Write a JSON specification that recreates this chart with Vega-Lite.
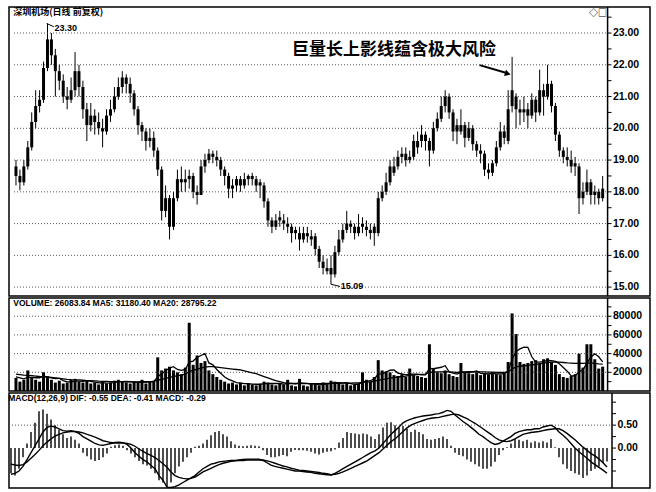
{
"$schema": "https://vega.github.io/schema/vega-lite/v6.json",
"background": "white",
"padding": {"left": 7, "top": 5, "right": 0, "bottom": 0},
"spacing": 2,
"bounds": "flush",
"config": {"view": {"stroke": "black", "strokeWidth": 1.5}, "text": {"font": "Liberation Sans"}},
"datasets": {"one": [{}],
"pl": [{"g":15,"t":"15.00"},{"g":16,"t":"16.00"},{"g":17,"t":"17.00"},{"g":18,"t":"18.00"},{"g":19,"t":"19.00"},{"g":20,"t":"20.00"},{"g":21,"t":"21.00"},{"g":22,"t":"22.00"},{"g":23,"t":"23.00"}],
"pt": [{"g":15},{"g":15.5},{"g":16},{"g":16.5},{"g":17},{"g":17.5},{"g":18},{"g":18.5},{"g":19},{"g":19.5},{"g":20},{"g":20.5},{"g":21},{"g":21.5},{"g":22},{"g":22.5},{"g":23},{"g":23.5}],
"vl": [{"g":20000,"t":"20000"},{"g":40000,"t":"40000"},{"g":60000,"t":"60000"},{"g":80000,"t":"80000"}],
"vt": [{"g":10000},{"g":20000},{"g":30000},{"g":40000},{"g":50000},{"g":60000},{"g":70000},{"g":80000},{"g":90000}],
"ml": [{"g":0,"t":"0.00"},{"g":0.5,"t":"0.50"}],
"mt": [{"g":-0.5},{"g":-0.25},{"g":0},{"g":0.25},{"g":0.5},{"g":0.75},{"g":1.0}],
"k": [
{"d":1,"o":18.8,"h":19.0,"l":18.2,"c":18.5,"v":14000,"m5":15000,"m20":18000,"dif":-0.57,"dea":-0.35,"mh":-0.55},
{"d":2,"o":18.5,"h":18.7,"l":18.05,"c":18.3,"v":10000,"m5":14000,"m20":17500,"dif":-0.55,"dea":-0.37,"mh":-0.6},
{"d":3,"o":18.3,"h":19.0,"l":18.2,"c":18.8,"v":12000,"m5":13000,"m20":17000,"dif":-0.5,"dea":-0.38,"mh":-0.45},
{"d":4,"o":18.8,"h":19.6,"l":18.7,"c":19.4,"v":22000,"m5":14500,"m20":16800,"dif":-0.4,"dea":-0.36,"mh":-0.2},
{"d":5,"o":19.4,"h":20.5,"l":19.3,"c":20.2,"v":15000,"m5":14600,"m20":16500,"dif":-0.25,"dea":-0.3,"mh":0.1},
{"d":6,"o":20.2,"h":21.2,"l":20.0,"c":20.7,"v":12000,"m5":14200,"m20":16000,"dif":-0.1,"dea":-0.22,"mh":0.35},
{"d":7,"o":20.7,"h":21.2,"l":20.5,"c":20.9,"v":10000,"m5":14200,"m20":15500,"dif":0.05,"dea":-0.14,"mh":0.55},
{"d":8,"o":20.9,"h":22.1,"l":20.8,"c":21.9,"v":20000,"m5":15800,"m20":15200,"dif":0.2,"dea":-0.05,"mh":0.8},
{"d":9,"o":21.9,"h":23.3,"l":21.8,"c":22.8,"v":16000,"m5":14600,"m20":15000,"dif":0.35,"dea":0.05,"mh":0.84},
{"d":10,"o":22.8,"h":23.0,"l":22.0,"c":22.3,"v":12000,"m5":14000,"m20":14500,"dif":0.45,"dea":0.13,"mh":0.75},
{"d":11,"o":22.3,"h":22.5,"l":21.0,"c":21.8,"v":9000,"m5":13400,"m20":14000,"dif":0.48,"dea":0.2,"mh":0.62},
{"d":12,"o":21.8,"h":22.0,"l":21.2,"c":21.5,"v":11000,"m5":13600,"m20":13500,"dif":0.46,"dea":0.26,"mh":0.5},
{"d":13,"o":21.5,"h":21.7,"l":20.8,"c":21.0,"v":8000,"m5":11200,"m20":13000,"dif":0.42,"dea":0.3,"mh":0.4},
{"d":14,"o":21.0,"h":21.3,"l":20.6,"c":20.9,"v":9000,"m5":9800,"m20":12500,"dif":0.38,"dea":0.33,"mh":0.3},
{"d":15,"o":20.9,"h":21.6,"l":20.8,"c":21.2,"v":12000,"m5":9800,"m20":12200,"dif":0.37,"dea":0.35,"mh":0.22},
{"d":16,"o":21.2,"h":22.4,"l":21.0,"c":21.8,"v":13000,"m5":10600,"m20":12000,"dif":0.38,"dea":0.36,"mh":0.25},
{"d":17,"o":21.8,"h":22.0,"l":21.0,"c":21.3,"v":10000,"m5":10600,"m20":11800,"dif":0.36,"dea":0.36,"mh":0.18},
{"d":18,"o":21.3,"h":21.5,"l":20.3,"c":20.6,"v":9000,"m5":10200,"m20":11500,"dif":0.32,"dea":0.35,"mh":0.1},
{"d":19,"o":20.6,"h":20.8,"l":19.6,"c":20.1,"v":11000,"m5":11000,"m20":11200,"dif":0.25,"dea":0.33,"mh":-0.1},
{"d":20,"o":20.1,"h":20.8,"l":19.9,"c":20.4,"v":8000,"m5":10200,"m20":11000,"dif":0.2,"dea":0.3,"mh":-0.18},
{"d":21,"o":20.4,"h":20.6,"l":19.8,"c":20.2,"v":9000,"m5":9400,"m20":10800,"dif":0.15,"dea":0.27,"mh":-0.25},
{"d":22,"o":20.2,"h":20.5,"l":19.8,"c":20.0,"v":7000,"m5":8800,"m20":10500,"dif":0.1,"dea":0.24,"mh":-0.28},
{"d":23,"o":20.0,"h":20.3,"l":19.4,"c":19.9,"v":10000,"m5":9000,"m20":10300,"dif":0.07,"dea":0.2,"mh":-0.26},
{"d":24,"o":19.9,"h":20.6,"l":19.8,"c":20.4,"v":8000,"m5":8400,"m20":10200,"dif":0.06,"dea":0.16,"mh":-0.2},
{"d":25,"o":20.4,"h":20.9,"l":20.2,"c":20.6,"v":9000,"m5":8600,"m20":10000,"dif":0.08,"dea":0.14,"mh":-0.12},
{"d":26,"o":20.6,"h":21.3,"l":20.5,"c":21.0,"v":11000,"m5":9000,"m20":10000,"dif":0.1,"dea":0.12,"mh":0.03},
{"d":27,"o":21.0,"h":21.6,"l":20.9,"c":21.3,"v":12000,"m5":10000,"m20":10000,"dif":0.12,"dea":0.11,"mh":0.06},
{"d":28,"o":21.3,"h":21.8,"l":21.1,"c":21.6,"v":10000,"m5":10000,"m20":10000,"dif":0.13,"dea":0.11,"mh":0.08},
{"d":29,"o":21.6,"h":21.7,"l":21.1,"c":21.4,"v":9000,"m5":10200,"m20":9900,"dif":0.12,"dea":0.11,"mh":0.05},
{"d":30,"o":21.4,"h":21.6,"l":20.8,"c":21.1,"v":8000,"m5":10000,"m20":9800,"dif":0.08,"dea":0.1,"mh":-0.05},
{"d":31,"o":21.1,"h":21.2,"l":20.4,"c":20.6,"v":10000,"m5":9600,"m20":9800,"dif":0.0,"dea":0.08,"mh":-0.12},
{"d":32,"o":20.6,"h":20.7,"l":19.8,"c":20.1,"v":9000,"m5":9200,"m20":9800,"dif":-0.1,"dea":0.04,"mh":-0.2},
{"d":33,"o":20.1,"h":20.2,"l":19.6,"c":19.9,"v":12000,"m5":9600,"m20":9900,"dif":-0.18,"dea":-0.02,"mh":-0.28},
{"d":34,"o":19.9,"h":20.0,"l":19.3,"c":19.6,"v":8000,"m5":9400,"m20":9900,"dif":-0.25,"dea":-0.07,"mh":-0.35},
{"d":35,"o":19.6,"h":20.0,"l":19.4,"c":19.7,"v":10000,"m5":9800,"m20":10000,"dif":-0.3,"dea":-0.12,"mh":-0.38},
{"d":36,"o":19.7,"h":19.9,"l":19.1,"c":19.3,"v":11000,"m5":10000,"m20":10200,"dif":-0.38,"dea":-0.16,"mh":-0.45},
{"d":37,"o":19.3,"h":19.4,"l":18.5,"c":18.7,"v":36000,"m5":15400,"m20":11500,"dif":-0.45,"dea":-0.21,"mh":-0.55},
{"d":38,"o":18.7,"h":18.8,"l":17.1,"c":17.4,"v":22000,"m5":18400,"m20":12500,"dif":-0.6,"dea":-0.27,"mh":-0.7},
{"d":39,"o":17.4,"h":18.2,"l":17.2,"c":17.8,"v":24000,"m5":21600,"m20":13500,"dif":-0.7,"dea":-0.34,"mh":-0.75},
{"d":40,"o":17.8,"h":17.9,"l":16.5,"c":16.9,"v":26000,"m5":24600,"m20":14500,"dif":-0.85,"dea":-0.42,"mh":-0.85},
{"d":41,"o":16.9,"h":18.0,"l":16.8,"c":17.8,"v":22000,"m5":26000,"m20":15500,"dif":-0.86,"dea":-0.52,"mh":-0.75},
{"d":42,"o":17.8,"h":18.7,"l":17.7,"c":18.4,"v":20000,"m5":23000,"m20":16500,"dif":-0.84,"dea":-0.6,"mh":-0.55},
{"d":43,"o":18.4,"h":18.8,"l":18.0,"c":18.3,"v":18000,"m5":22000,"m20":17000,"dif":-0.8,"dea":-0.64,"mh":-0.4},
{"d":44,"o":18.3,"h":18.7,"l":18.0,"c":18.4,"v":25000,"m5":23000,"m20":18000,"dif":-0.75,"dea":-0.66,"mh":-0.3},
{"d":45,"o":18.4,"h":18.7,"l":18.1,"c":18.5,"v":73000,"m5":31000,"m20":21000,"dif":-0.7,"dea":-0.67,"mh":-0.2},
{"d":46,"o":18.5,"h":18.6,"l":17.8,"c":18.0,"v":28000,"m5":32000,"m20":22000,"dif":-0.65,"dea":-0.66,"mh":-0.1},
{"d":47,"o":18.0,"h":18.2,"l":17.6,"c":17.9,"v":38000,"m5":36000,"m20":23500,"dif":-0.6,"dea":-0.63,"mh":0.03},
{"d":48,"o":17.9,"h":19.0,"l":17.9,"c":18.8,"v":30000,"m5":38000,"m20":24500,"dif":-0.52,"dea":-0.58,"mh":0.05},
{"d":49,"o":18.8,"h":19.2,"l":18.6,"c":19.0,"v":32000,"m5":40000,"m20":25500,"dif":-0.45,"dea":-0.52,"mh":0.1},
{"d":50,"o":19.0,"h":19.35,"l":18.9,"c":19.2,"v":22000,"m5":30000,"m20":26000,"dif":-0.4,"dea":-0.48,"mh":0.18},
{"d":51,"o":19.2,"h":19.3,"l":18.9,"c":19.1,"v":18000,"m5":28000,"m20":26000,"dif":-0.35,"dea":-0.44,"mh":0.28},
{"d":52,"o":19.1,"h":19.3,"l":18.8,"c":19.0,"v":15000,"m5":23000,"m20":25500,"dif":-0.33,"dea":-0.4,"mh":0.35},
{"d":53,"o":19.0,"h":19.1,"l":18.5,"c":18.7,"v":12000,"m5":19000,"m20":25000,"dif":-0.3,"dea":-0.36,"mh":0.37},
{"d":54,"o":18.7,"h":18.8,"l":18.2,"c":18.5,"v":10000,"m5":15000,"m20":24500,"dif":-0.29,"dea":-0.33,"mh":0.3},
{"d":55,"o":18.5,"h":18.6,"l":17.8,"c":18.1,"v":8000,"m5":12500,"m20":24000,"dif":-0.28,"dea":-0.31,"mh":0.25},
{"d":56,"o":18.1,"h":18.4,"l":17.8,"c":18.2,"v":9000,"m5":10800,"m20":23500,"dif":-0.27,"dea":-0.29,"mh":0.15},
{"d":57,"o":18.2,"h":18.5,"l":18.0,"c":18.4,"v":7000,"m5":9000,"m20":23000,"dif":-0.27,"dea":-0.28,"mh":0.08},
{"d":58,"o":18.4,"h":18.5,"l":18.0,"c":18.2,"v":9000,"m5":8400,"m20":22500,"dif":-0.26,"dea":-0.27,"mh":0.05},
{"d":59,"o":18.2,"h":18.6,"l":18.1,"c":18.4,"v":6000,"m5":7800,"m20":21500,"dif":-0.25,"dea":-0.27,"mh":0.04},
{"d":60,"o":18.4,"h":18.55,"l":18.2,"c":18.5,"v":8000,"m5":7800,"m20":20500,"dif":-0.24,"dea":-0.26,"mh":0.05},
{"d":61,"o":18.5,"h":18.6,"l":18.2,"c":18.4,"v":7000,"m5":7400,"m20":19500,"dif":-0.24,"dea":-0.26,"mh":0.06},
{"d":62,"o":18.4,"h":18.5,"l":18.0,"c":18.2,"v":6000,"m5":7200,"m20":18500,"dif":-0.24,"dea":-0.26,"mh":0.05},
{"d":63,"o":18.3,"h":18.4,"l":17.8,"c":18.2,"v":8000,"m5":7000,"m20":17000,"dif":-0.24,"dea":-0.26,"mh":0.04},
{"d":64,"o":18.2,"h":18.3,"l":17.5,"c":17.7,"v":10000,"m5":7800,"m20":15500,"dif":-0.27,"dea":-0.26,"mh":-0.05},
{"d":65,"o":17.7,"h":17.8,"l":16.9,"c":17.1,"v":9000,"m5":8000,"m20":14000,"dif":-0.32,"dea":-0.28,"mh":-0.15},
{"d":66,"o":17.1,"h":17.2,"l":16.7,"c":16.9,"v":7000,"m5":8000,"m20":12500,"dif":-0.37,"dea":-0.3,"mh":-0.2},
{"d":67,"o":16.9,"h":17.3,"l":16.8,"c":17.1,"v":6000,"m5":8000,"m20":11000,"dif":-0.4,"dea":-0.33,"mh":-0.2},
{"d":68,"o":17.2,"h":17.4,"l":16.9,"c":17.1,"v":8000,"m5":8000,"m20":10000,"dif":-0.42,"dea":-0.36,"mh":-0.18},
{"d":69,"o":17.1,"h":17.3,"l":16.8,"c":17.0,"v":7000,"m5":7400,"m20":9000,"dif":-0.44,"dea":-0.39,"mh":-0.15},
{"d":70,"o":17.0,"h":17.2,"l":16.7,"c":16.9,"v":12000,"m5":8000,"m20":8500,"dif":-0.46,"dea":-0.41,"mh":-0.18},
{"d":71,"o":16.9,"h":17.0,"l":16.4,"c":16.7,"v":6000,"m5":8000,"m20":8200,"dif":-0.48,"dea":-0.44,"mh":-0.08},
{"d":72,"o":16.8,"h":16.9,"l":16.5,"c":16.7,"v":5000,"m5":7600,"m20":8000,"dif":-0.5,"dea":-0.46,"mh":-0.04},
{"d":73,"o":16.7,"h":16.9,"l":16.15,"c":16.5,"v":13000,"m5":8600,"m20":8000,"dif":-0.5,"dea":-0.48,"mh":-0.05},
{"d":74,"o":16.5,"h":16.9,"l":16.4,"c":16.7,"v":6000,"m5":8400,"m20":7800,"dif":-0.51,"dea":-0.49,"mh":-0.05},
{"d":75,"o":16.7,"h":16.9,"l":16.4,"c":16.6,"v":5000,"m5":8200,"m20":7800,"dif":-0.52,"dea":-0.5,"mh":-0.06},
{"d":76,"o":16.5,"h":16.8,"l":16.3,"c":16.6,"v":7000,"m5":7200,"m20":7800,"dif":-0.53,"dea":-0.51,"mh":-0.08},
{"d":77,"o":16.6,"h":16.7,"l":16.0,"c":16.2,"v":8000,"m5":7800,"m20":7800,"dif":-0.55,"dea":-0.52,"mh":-0.12},
{"d":78,"o":16.2,"h":16.3,"l":15.6,"c":15.8,"v":6000,"m5":6600,"m20":7900,"dif":-0.56,"dea":-0.53,"mh":-0.14},
{"d":79,"o":15.8,"h":16.0,"l":15.4,"c":15.6,"v":9000,"m5":7000,"m20":8000,"dif":-0.57,"dea":-0.55,"mh":-0.1},
{"d":80,"o":15.5,"h":15.9,"l":15.4,"c":15.6,"v":7000,"m5":7400,"m20":8000,"dif":-0.58,"dea":-0.56,"mh":-0.08},
{"d":81,"o":15.6,"h":16.0,"l":15.09,"c":15.4,"v":11000,"m5":8200,"m20":8200,"dif":-0.59,"dea":-0.58,"mh":-0.07},
{"d":82,"o":15.4,"h":16.3,"l":15.3,"c":16.1,"v":10000,"m5":8600,"m20":8300,"dif":-0.55,"dea":-0.57,"mh":-0.03},
{"d":83,"o":16.1,"h":16.8,"l":16.0,"c":16.5,"v":8000,"m5":9000,"m20":8300,"dif":-0.5,"dea":-0.55,"mh":0.12},
{"d":84,"o":16.5,"h":17.0,"l":16.4,"c":16.8,"v":7000,"m5":8600,"m20":8400,"dif":-0.45,"dea":-0.52,"mh":0.22},
{"d":85,"o":16.8,"h":17.4,"l":16.7,"c":17.0,"v":8000,"m5":8800,"m20":8500,"dif":-0.4,"dea":-0.48,"mh":0.35},
{"d":86,"o":17.0,"h":17.1,"l":16.7,"c":16.9,"v":6000,"m5":8000,"m20":8500,"dif":-0.35,"dea":-0.44,"mh":0.33},
{"d":87,"o":16.9,"h":17.0,"l":16.5,"c":16.7,"v":7000,"m5":7200,"m20":8600,"dif":-0.3,"dea":-0.4,"mh":0.32},
{"d":88,"o":16.7,"h":17.3,"l":16.6,"c":16.9,"v":8000,"m5":7200,"m20":8700,"dif":-0.25,"dea":-0.36,"mh":0.3},
{"d":89,"o":17.0,"h":17.2,"l":16.7,"c":16.9,"v":20000,"m5":9800,"m20":9300,"dif":-0.2,"dea":-0.32,"mh":0.32},
{"d":90,"o":16.9,"h":17.1,"l":16.6,"c":16.8,"v":12000,"m5":10200,"m20":9500,"dif":-0.15,"dea":-0.28,"mh":0.3},
{"d":91,"o":16.8,"h":17.0,"l":16.5,"c":16.7,"v":10000,"m5":11000,"m20":9800,"dif":-0.1,"dea":-0.22,"mh":0.25},
{"d":92,"o":16.9,"h":17.0,"l":16.3,"c":16.7,"v":15000,"m5":13000,"m20":10200,"dif":-0.06,"dea":-0.16,"mh":0.2},
{"d":93,"o":16.7,"h":18.0,"l":16.6,"c":17.8,"v":33000,"m5":18000,"m20":11500,"dif":0.0,"dea":-0.1,"mh":0.3},
{"d":94,"o":17.8,"h":18.2,"l":17.7,"c":18.0,"v":22000,"m5":18400,"m20":12200,"dif":0.1,"dea":-0.02,"mh":0.45},
{"d":95,"o":18.0,"h":18.6,"l":17.9,"c":18.3,"v":21000,"m5":20200,"m20":13000,"dif":0.2,"dea":0.06,"mh":0.55},
{"d":96,"o":18.3,"h":19.0,"l":18.2,"c":18.8,"v":20000,"m5":22200,"m20":13800,"dif":0.3,"dea":0.14,"mh":0.56},
{"d":97,"o":18.6,"h":19.1,"l":18.5,"c":18.8,"v":17000,"m5":22600,"m20":14400,"dif":0.38,"dea":0.2,"mh":0.5},
{"d":98,"o":18.8,"h":19.3,"l":18.7,"c":19.1,"v":16000,"m5":19200,"m20":15000,"dif":0.46,"dea":0.28,"mh":0.45},
{"d":99,"o":19.1,"h":19.4,"l":18.9,"c":19.2,"v":18000,"m5":18400,"m20":15500,"dif":0.55,"dea":0.36,"mh":0.48},
{"d":100,"o":19.2,"h":19.4,"l":18.8,"c":19.0,"v":15000,"m5":17200,"m20":16000,"dif":0.6,"dea":0.44,"mh":0.42},
{"d":101,"o":19.0,"h":19.3,"l":18.9,"c":19.1,"v":24000,"m5":18000,"m20":16800,"dif":0.63,"dea":0.5,"mh":0.35},
{"d":102,"o":19.1,"h":19.8,"l":19.0,"c":19.6,"v":17000,"m5":18000,"m20":17200,"dif":0.66,"dea":0.54,"mh":0.4},
{"d":103,"o":19.4,"h":19.9,"l":19.2,"c":19.6,"v":16000,"m5":18000,"m20":17500,"dif":0.68,"dea":0.57,"mh":0.35},
{"d":104,"o":19.6,"h":20.1,"l":19.4,"c":19.8,"v":15000,"m5":17200,"m20":17800,"dif":0.7,"dea":0.6,"mh":0.3},
{"d":105,"o":19.8,"h":19.9,"l":19.3,"c":19.6,"v":14000,"m5":17200,"m20":18000,"dif":0.71,"dea":0.63,"mh":0.2},
{"d":106,"o":19.6,"h":19.7,"l":18.8,"c":19.3,"v":50000,"m5":24200,"m20":19800,"dif":0.72,"dea":0.65,"mh":0.18},
{"d":107,"o":19.3,"h":20.2,"l":19.2,"c":20.0,"v":24000,"m5":23800,"m20":20200,"dif":0.74,"dea":0.66,"mh":0.2},
{"d":108,"o":20.0,"h":20.5,"l":19.9,"c":20.3,"v":20000,"m5":24600,"m20":20500,"dif":0.75,"dea":0.67,"mh":0.22},
{"d":109,"o":20.3,"h":21.0,"l":20.2,"c":20.7,"v":19000,"m5":25400,"m20":20500,"dif":0.78,"dea":0.69,"mh":0.25},
{"d":110,"o":20.7,"h":21.2,"l":20.5,"c":21.0,"v":22000,"m5":27000,"m20":20600,"dif":0.82,"dea":0.71,"mh":0.2},
{"d":111,"o":21.0,"h":21.1,"l":20.3,"c":20.5,"v":18000,"m5":20600,"m20":20400,"dif":0.8,"dea":0.73,"mh":0.05},
{"d":112,"o":20.5,"h":20.6,"l":19.6,"c":19.9,"v":16000,"m5":19000,"m20":20200,"dif":0.72,"dea":0.74,"mh":-0.1},
{"d":113,"o":20.1,"h":20.3,"l":19.5,"c":19.9,"v":15000,"m5":18000,"m20":20000,"dif":0.65,"dea":0.72,"mh":-0.15},
{"d":114,"o":19.9,"h":20.6,"l":19.8,"c":20.1,"v":30000,"m5":20200,"m20":20500,"dif":0.58,"dea":0.68,"mh":-0.18},
{"d":115,"o":20.1,"h":20.2,"l":19.4,"c":19.7,"v":20000,"m5":19800,"m20":20500,"dif":0.52,"dea":0.64,"mh":-0.25},
{"d":116,"o":19.7,"h":20.2,"l":19.6,"c":20.0,"v":19000,"m5":20000,"m20":20600,"dif":0.45,"dea":0.59,"mh":-0.3},
{"d":117,"o":20.0,"h":20.1,"l":19.3,"c":19.5,"v":18000,"m5":20400,"m20":20600,"dif":0.38,"dea":0.54,"mh":-0.35},
{"d":118,"o":19.5,"h":19.6,"l":19.1,"c":19.3,"v":20000,"m5":21400,"m20":20700,"dif":0.3,"dea":0.48,"mh":-0.4},
{"d":119,"o":19.3,"h":19.5,"l":18.9,"c":19.2,"v":17000,"m5":18800,"m20":20500,"dif":0.25,"dea":0.42,"mh":-0.45},
{"d":120,"o":19.2,"h":19.3,"l":18.5,"c":18.7,"v":19000,"m5":18600,"m20":20500,"dif":0.18,"dea":0.36,"mh":-0.45},
{"d":121,"o":18.7,"h":18.9,"l":18.4,"c":18.6,"v":18000,"m5":18200,"m20":20300,"dif":0.12,"dea":0.3,"mh":-0.4},
{"d":122,"o":18.6,"h":19.0,"l":18.5,"c":18.9,"v":20000,"m5":18800,"m20":20200,"dif":0.08,"dea":0.23,"mh":-0.3},
{"d":123,"o":18.9,"h":19.6,"l":18.8,"c":19.4,"v":18000,"m5":18400,"m20":20000,"dif":0.1,"dea":0.18,"mh":-0.15},
{"d":124,"o":19.4,"h":20.2,"l":19.3,"c":19.9,"v":17000,"m5":18200,"m20":19800,"dif":0.15,"dea":0.15,"mh":-0.05},
{"d":125,"o":19.9,"h":20.1,"l":19.5,"c":19.7,"v":20000,"m5":18600,"m20":19800,"dif":0.2,"dea":0.14,"mh":0.02},
{"d":126,"o":19.6,"h":21.2,"l":19.5,"c":20.6,"v":31000,"m5":21200,"m20":20500,"dif":0.25,"dea":0.16,"mh":0.1},
{"d":127,"o":20.7,"h":22.25,"l":20.5,"c":21.2,"v":83000,"m5":33800,"m20":23500,"dif":0.32,"dea":0.2,"mh":0.2},
{"d":128,"o":21.0,"h":21.1,"l":20.0,"c":20.6,"v":61000,"m5":42400,"m20":25800,"dif":0.36,"dea":0.25,"mh":0.18},
{"d":129,"o":20.6,"h":20.9,"l":20.1,"c":20.5,"v":31000,"m5":45000,"m20":26500,"dif":0.38,"dea":0.3,"mh":0.15},
{"d":130,"o":20.5,"h":21.0,"l":20.2,"c":20.6,"v":29000,"m5":47000,"m20":27000,"dif":0.4,"dea":0.32,"mh":0.18},
{"d":131,"o":20.6,"h":20.8,"l":20.0,"c":20.4,"v":30000,"m5":46800,"m20":27500,"dif":0.4,"dea":0.34,"mh":0.12},
{"d":132,"o":20.4,"h":21.1,"l":20.3,"c":20.9,"v":32000,"m5":36600,"m20":28000,"dif":0.42,"dea":0.35,"mh":0.15},
{"d":133,"o":20.9,"h":21.0,"l":20.2,"c":20.5,"v":33000,"m5":31000,"m20":28500,"dif":0.42,"dea":0.36,"mh":0.12},
{"d":134,"o":20.5,"h":21.85,"l":20.4,"c":21.2,"v":30000,"m5":30800,"m20":29000,"dif":0.46,"dea":0.38,"mh":0.15},
{"d":135,"o":21.2,"h":21.4,"l":20.4,"c":21.0,"v":34000,"m5":31800,"m20":29800,"dif":0.48,"dea":0.4,"mh":0.12},
{"d":136,"o":21.0,"h":22.0,"l":20.9,"c":21.4,"v":35000,"m5":32800,"m20":30500,"dif":0.5,"dea":0.41,"mh":0.2},
{"d":137,"o":21.4,"h":21.5,"l":20.5,"c":20.7,"v":31000,"m5":32600,"m20":31000,"dif":0.45,"dea":0.42,"mh":0.02},
{"d":138,"o":20.7,"h":20.8,"l":19.6,"c":19.8,"v":28000,"m5":31600,"m20":31200,"dif":0.35,"dea":0.42,"mh":-0.2},
{"d":139,"o":19.8,"h":19.9,"l":19.1,"c":19.3,"v":18000,"m5":29200,"m20":31000,"dif":0.28,"dea":0.38,"mh":-0.35},
{"d":140,"o":19.3,"h":19.4,"l":18.9,"c":19.1,"v":15000,"m5":25200,"m20":30500,"dif":0.2,"dea":0.32,"mh":-0.45},
{"d":141,"o":19.1,"h":19.4,"l":18.8,"c":19.0,"v":14000,"m5":21200,"m20":30000,"dif":0.1,"dea":0.25,"mh":-0.5},
{"d":142,"o":19.0,"h":19.3,"l":18.6,"c":18.8,"v":16000,"m5":16200,"m20":29800,"dif":0.0,"dea":0.18,"mh":-0.55},
{"d":143,"o":18.9,"h":19.1,"l":18.5,"c":18.8,"v":18000,"m5":16200,"m20":29500,"dif":-0.08,"dea":0.1,"mh":-0.58},
{"d":144,"o":18.8,"h":18.9,"l":17.3,"c":17.8,"v":40000,"m5":20600,"m20":29800,"dif":-0.15,"dea":0.02,"mh":-0.65},
{"d":145,"o":17.8,"h":18.3,"l":17.6,"c":18.0,"v":25000,"m5":22600,"m20":29500,"dif":-0.22,"dea":-0.05,"mh":-0.6},
{"d":146,"o":18.0,"h":18.7,"l":17.9,"c":18.3,"v":50000,"m5":29800,"m20":29800,"dif":-0.3,"dea":-0.12,"mh":-0.5},
{"d":147,"o":18.3,"h":18.4,"l":17.6,"c":17.9,"v":50000,"m5":36200,"m20":30000,"dif":-0.36,"dea":-0.17,"mh":-0.45},
{"d":148,"o":17.9,"h":18.2,"l":17.6,"c":18.0,"v":34000,"m5":39800,"m20":29500,"dif":-0.42,"dea":-0.24,"mh":-0.4},
{"d":149,"o":18.0,"h":18.1,"l":17.6,"c":17.8,"v":24000,"m5":36600,"m20":29000,"dif":-0.48,"dea":-0.32,"mh":-0.32},
{"d":150,"o":17.8,"h":18.5,"l":17.7,"c":18.1,"v":26000,"m5":31180,"m20":28800,"dif":-0.55,"dea":-0.41,"mh":-0.29}
]},
"vconcat": [
{
 "width": 641, "height": 289,
 "layer": [
  {"data": {"name": "k"},
   "mark": {"type": "rule", "color": "black", "strokeWidth": 1},
   "encoding": {
     "x": {"field": "d", "type": "quantitative", "scale": {"domain": [0.5, 160.75], "nice": false, "zero": false}, "axis": null},
     "y": {"field": "l", "type": "quantitative", "scale": {"domain": [14.72, 23.82], "nice": false, "zero": false}, "axis": null},
     "y2": {"field": "h"}}},
  {"data": {"name": "pl"},
   "mark": {"type": "rule", "strokeDash": [1, 2], "color": "#444", "strokeWidth": 0.9},
   "encoding": {"y": {"field": "g", "type": "quantitative", "axis": null}, "x": {"datum": 0.5, "axis": null}, "x2": {"datum": 151.25}}},
  {"data": {"name": "pt"},
   "mark": {"type": "rule", "color": "black", "strokeWidth": 1},
   "encoding": {"y": {"field": "g", "type": "quantitative", "axis": null}, "x": {"datum": 151.25, "axis": null}, "x2": {"datum": 152.25}}},
  {"data": {"name": "pl"},
   "mark": {"type": "text", "align": "left", "baseline": "middle", "fontSize": 10.5, "fontWeight": "bold"},
   "encoding": {"y": {"field": "g", "type": "quantitative", "axis": null}, "x": {"datum": 152.6, "axis": null}, "text": {"field": "t"}}},
  {"data": {"name": "one"},
   "mark": {"type": "rule", "color": "black", "strokeWidth": 1.5},
   "encoding": {"x": {"datum": 151.25, "axis": null}, "y": {"datum": 14.72, "axis": null}, "y2": {"datum": 23.82}}},
  {"data": {"name": "k"},
   "mark": {"type": "bar", "color": "black", "width": 3},
   "encoding": {"x": {"field": "d", "type": "quantitative", "axis": null}, "y": {"field": "o", "type": "quantitative", "axis": null}, "y2": {"field": "c"}}},
  {"data": {"name": "one"},
   "mark": {"type": "text", "align": "left", "baseline": "top", "fontSize": 9, "fontWeight": "bold", "font": "Noto Sans CJK SC", "dy": 1},
   "encoding": {"x": {"datum": 0.3, "axis": null}, "y": {"datum": 23.82, "axis": null}, "text": {"value": "深圳机场(日线 前复权)"}}},
  {"data": {"name": "one"},
   "mark": {"type": "text", "align": "left", "baseline": "middle", "fontSize": 9, "fontWeight": "bold", "font": "Noto Sans CJK SC"},
   "encoding": {"x": {"datum": 146.5, "axis": null}, "y": {"datum": 23.62, "axis": null}, "text": {"value": "◇□"}}},
  {"data": {"name": "one"},
   "mark": {"type": "rule", "color": "black", "strokeWidth": 1},
   "encoding": {"x": {"datum": 8.8, "axis": null}, "y": {"datum": 23.3, "axis": null}, "x2": {"datum": 10.6}, "y2": {"datum": 23.2}}},
  {"data": {"name": "one"},
   "mark": {"type": "text", "align": "left", "baseline": "middle", "fontSize": 9, "fontWeight": "bold"},
   "encoding": {"x": {"datum": 10.8, "axis": null}, "y": {"datum": 23.16, "axis": null}, "text": {"value": "23.30"}}},
  {"data": {"name": "one"},
   "mark": {"type": "rule", "color": "black", "strokeWidth": 1},
   "encoding": {"x": {"datum": 81, "axis": null}, "y": {"datum": 15.09, "axis": null}, "x2": {"datum": 83.3}, "y2": {"datum": 15.02}}},
  {"data": {"name": "one"},
   "mark": {"type": "text", "align": "left", "baseline": "middle", "fontSize": 9, "fontWeight": "bold"},
   "encoding": {"x": {"datum": 83.5, "axis": null}, "y": {"datum": 15.02, "axis": null}, "text": {"value": "15.09"}}},
  {"data": {"name": "one"},
   "mark": {"type": "text", "align": "center", "baseline": "middle", "fontSize": 17, "fontWeight": "bold", "font": "Noto Sans CJK SC"},
   "encoding": {"x": {"datum": 97, "axis": null}, "y": {"datum": 22.46, "axis": null}, "text": {"value": "巨量长上影线蕴含极大风险"}}},
  {"data": {"name": "one"},
   "mark": {"type": "rule", "color": "black", "strokeWidth": 2},
   "encoding": {"x": {"datum": 118.75, "axis": null}, "y": {"datum": 21.99, "axis": null}, "x2": {"datum": 125.6}, "y2": {"datum": 21.74}}},
  {"data": {"name": "one"},
   "mark": {"type": "point", "shape": "triangle-right", "filled": true, "color": "black", "size": 45, "angle": 17, "opacity": 1},
   "encoding": {"x": {"datum": 125.9, "axis": null}, "y": {"datum": 21.72, "axis": null}}}
 ]
},
{
 "width": 641, "height": 93,
 "layer": [
  {"data": {"name": "k"},
   "mark": {"type": "bar", "color": "black", "width": 3},
   "encoding": {
     "x": {"field": "d", "type": "quantitative", "scale": {"domain": [0.5, 160.75], "nice": false, "zero": false}, "axis": null},
     "y": {"field": "v", "type": "quantitative", "scale": {"domain": [0, 99500], "nice": false}, "axis": null}}},
  {"data": {"name": "vl"},
   "mark": {"type": "rule", "strokeDash": [1, 2], "color": "#444", "strokeWidth": 0.9},
   "encoding": {"y": {"field": "g", "type": "quantitative", "axis": null}, "x": {"datum": 0.5, "axis": null}, "x2": {"datum": 151.25}}},
  {"data": {"name": "vt"},
   "mark": {"type": "rule", "color": "black", "strokeWidth": 1},
   "encoding": {"y": {"field": "g", "type": "quantitative", "axis": null}, "x": {"datum": 151.25, "axis": null}, "x2": {"datum": 152.25}}},
  {"data": {"name": "vl"},
   "mark": {"type": "text", "align": "left", "baseline": "middle", "fontSize": 10.5, "fontWeight": "bold"},
   "encoding": {"y": {"field": "g", "type": "quantitative", "axis": null}, "x": {"datum": 152.6, "axis": null}, "text": {"field": "t"}}},
  {"data": {"name": "one"},
   "mark": {"type": "rule", "color": "black", "strokeWidth": 1.5},
   "encoding": {"x": {"datum": 151.25, "axis": null}, "y": {"datum": 0, "axis": null}, "y2": {"datum": 99500}}},
  {"data": {"name": "k"},
   "mark": {"type": "line", "color": "black", "strokeWidth": 1.3},
   "encoding": {"x": {"field": "d", "type": "quantitative", "axis": null}, "y": {"field": "m5", "type": "quantitative", "axis": null}}},
  {"data": {"name": "k"},
   "mark": {"type": "line", "color": "black", "strokeWidth": 1.3},
   "encoding": {"x": {"field": "d", "type": "quantitative", "axis": null}, "y": {"field": "m20", "type": "quantitative", "axis": null}}},
  {"data": {"name": "one"},
   "mark": {"type": "text", "align": "left", "baseline": "top", "fontSize": 8.5, "fontWeight": "bold", "dy": 1},
   "encoding": {"x": {"datum": 0.3, "axis": null}, "y": {"datum": 99500, "axis": null}, "text": {"value": "VOLUME: 26083.84  MA5: 31180.40  MA20: 28795.22"}}}
 ]
},
{
 "width": 641, "height": 95,
 "layer": [
  {"data": {"name": "k"},
   "mark": {"type": "rule", "color": "black", "strokeWidth": 1.4},
   "encoding": {
     "x": {"field": "d", "type": "quantitative", "scale": {"domain": [0.5, 160.75], "nice": false, "zero": false}, "axis": null},
     "y": {"field": "mh", "type": "quantitative", "scale": {"domain": [-0.87, 1.2], "nice": false, "zero": false}, "axis": null},
     "y2": {"datum": 0}}},
  {"data": {"values": [{"g":0.5}]},
   "mark": {"type": "rule", "strokeDash": [1, 2], "color": "#444", "strokeWidth": 0.9},
   "encoding": {"y": {"field": "g", "type": "quantitative", "axis": null}, "x": {"datum": 0.5, "axis": null}, "x2": {"datum": 151.25}}},
  {"data": {"name": "mt"},
   "mark": {"type": "rule", "color": "black", "strokeWidth": 1},
   "encoding": {"y": {"field": "g", "type": "quantitative", "axis": null}, "x": {"datum": 151.25, "axis": null}, "x2": {"datum": 152.25}}},
  {"data": {"name": "ml"},
   "mark": {"type": "text", "align": "left", "baseline": "middle", "fontSize": 10.5, "fontWeight": "bold"},
   "encoding": {"y": {"field": "g", "type": "quantitative", "axis": null}, "x": {"datum": 152.6, "axis": null}, "text": {"field": "t"}}},
  {"data": {"name": "one"},
   "mark": {"type": "rule", "color": "black", "strokeWidth": 1.5},
   "encoding": {"x": {"datum": 151.25, "axis": null}, "y": {"datum": -0.87, "axis": null}, "y2": {"datum": 1.2}}},
  {"data": {"name": "k"},
   "mark": {"type": "line", "color": "black", "strokeWidth": 1.4},
   "encoding": {"x": {"field": "d", "type": "quantitative", "axis": null}, "y": {"field": "dif", "type": "quantitative", "axis": null}}},
  {"data": {"name": "k"},
   "mark": {"type": "line", "color": "black", "strokeWidth": 1.4},
   "encoding": {"x": {"field": "d", "type": "quantitative", "axis": null}, "y": {"field": "dea", "type": "quantitative", "axis": null}}},
  {"data": {"name": "one"},
   "mark": {"type": "text", "align": "left", "baseline": "top", "fontSize": 8.5, "fontWeight": "bold", "dy": 1},
   "encoding": {"x": {"datum": 0.3, "axis": null}, "y": {"datum": 1.2, "axis": null}, "text": {"value": "MACD(12,26,9)  DIF: -0.55  DEA: -0.41  MACD: -0.29"}}}
 ]
}
]
}
